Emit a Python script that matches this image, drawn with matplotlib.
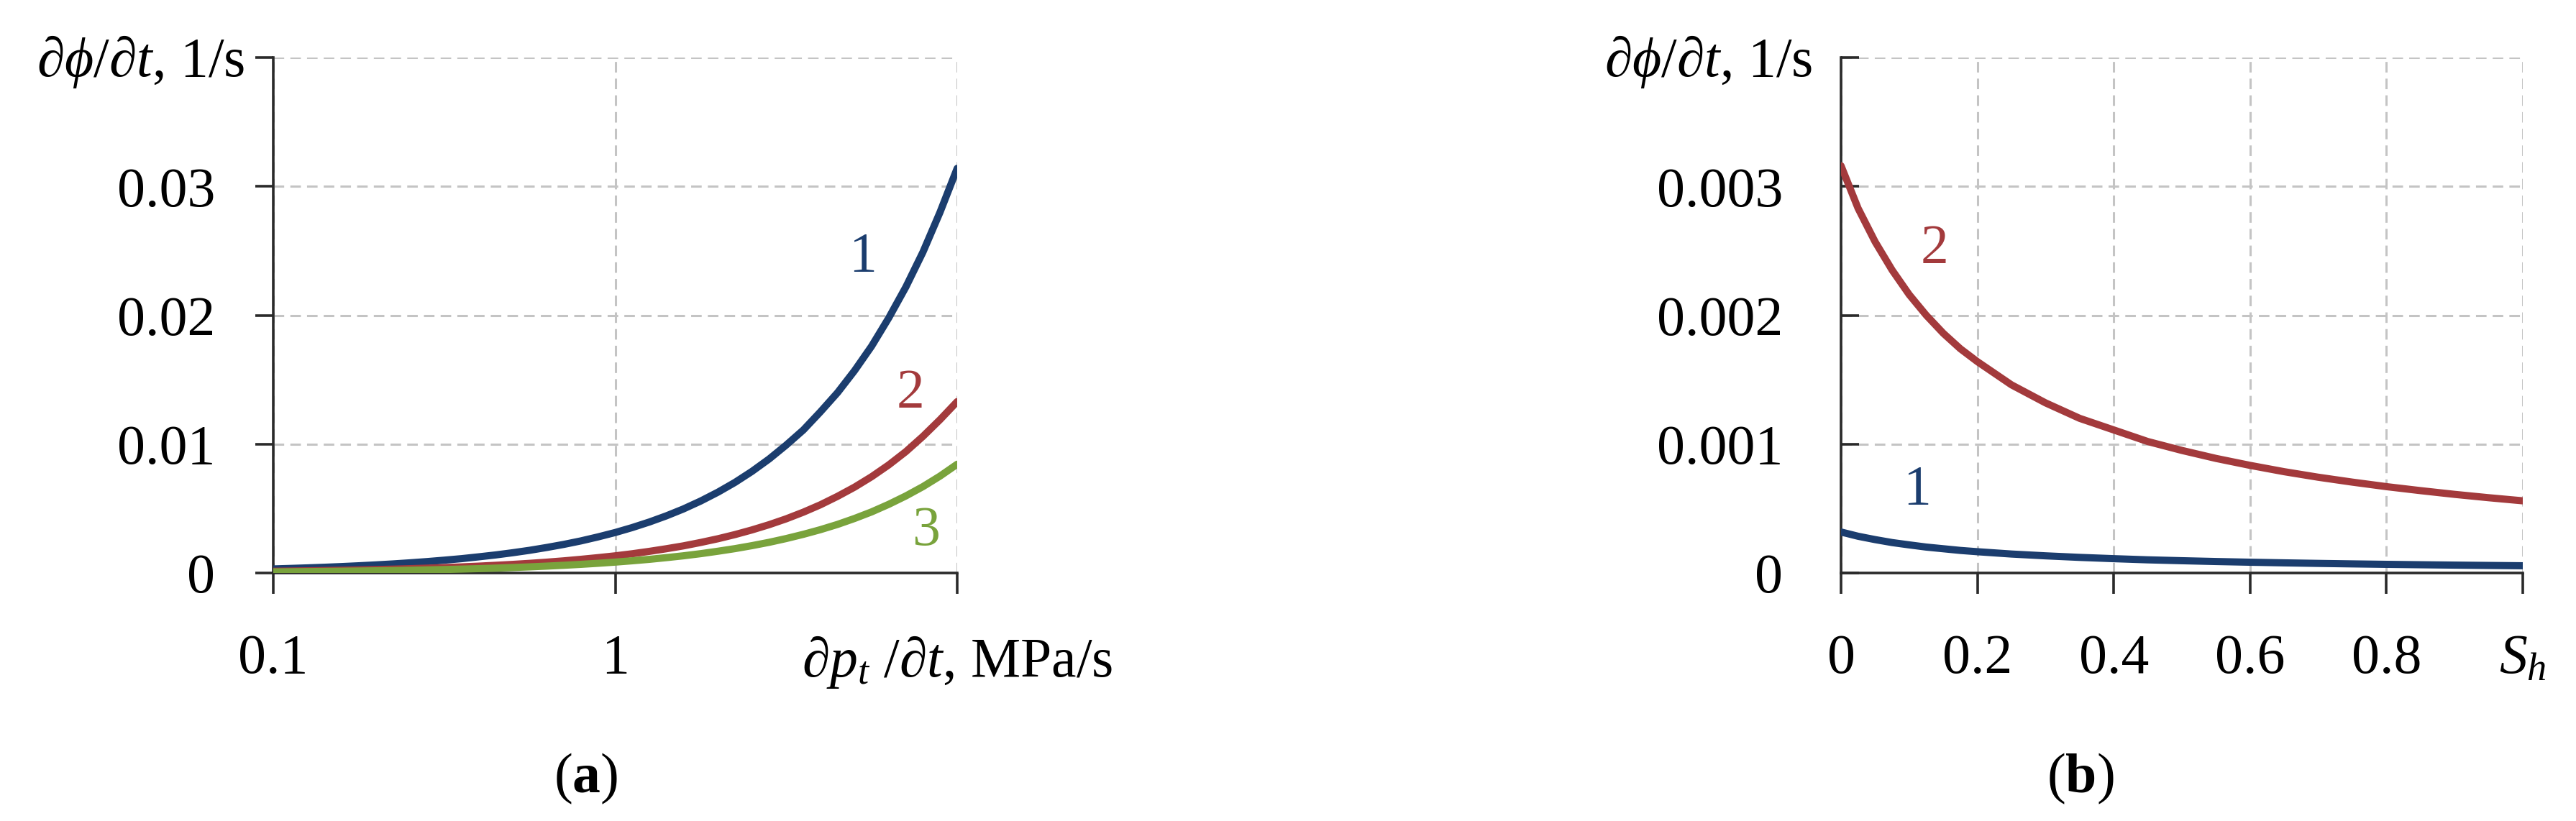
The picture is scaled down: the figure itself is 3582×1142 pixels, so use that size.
import matplotlib
matplotlib.use("Agg")
import matplotlib.pyplot as plt
from matplotlib.ticker import FixedLocator, FixedFormatter, NullLocator

plt.rcParams['font.family'] = ['Liberation Serif', 'DejaVu Serif']
plt.rcParams['mathtext.fontset'] = 'custom'
plt.rcParams['mathtext.rm'] = 'Liberation Serif'
plt.rcParams['mathtext.it'] = 'Liberation Serif:italic'
plt.rcParams['mathtext.bf'] = 'Liberation Serif:bold'

# ---------------- data: panel (a) ----------------
a_x = [0.1, 0.112, 0.126, 0.141, 0.158, 0.178, 0.2, 0.224, 0.251, 0.282, 0.316,
       0.355, 0.398, 0.447, 0.501, 0.562, 0.631, 0.708, 0.794, 0.891, 1.0,
       1.12, 1.26, 1.41, 1.58, 1.78, 2.0, 2.24, 2.51, 2.82, 3.16,
       3.55, 3.98, 4.47, 5.01, 5.62, 6.31, 7.08, 7.94, 8.91, 10.0]
a_curve1 = [0.000314, 0.000352, 0.000396, 0.000443, 0.000496, 0.000559, 0.000628,
            0.000703, 0.000788, 0.000885, 0.000992, 0.00111, 0.00125, 0.00140,
            0.00157, 0.00176, 0.00198, 0.00222, 0.00249, 0.00280, 0.00314,
            0.00352, 0.00396, 0.00443, 0.00496, 0.00559, 0.00628, 0.00703,
            0.00788, 0.00885, 0.00992, 0.0111, 0.0125, 0.0140, 0.0157, 0.0176,
            0.0198, 0.0222, 0.0249, 0.0280, 0.0314]
a_curve2 = [0.000133, 0.000149, 0.000168, 0.000188, 0.000210, 0.000237, 0.000266,
            0.000298, 0.000334, 0.000375, 0.000420, 0.000472, 0.000529, 0.000595,
            0.000666, 0.000747, 0.000839, 0.000942, 0.00106, 0.00119, 0.00133,
            0.00149, 0.00168, 0.00188, 0.00210, 0.00237, 0.00266, 0.00298,
            0.00334, 0.00375, 0.00420, 0.00472, 0.00529, 0.00595, 0.00666,
            0.00747, 0.00839, 0.00942, 0.0106, 0.0119, 0.0133]
a_curve3 = [0.0000844, 0.0000945, 0.000106, 0.000119, 0.000133, 0.000150, 0.000169,
            0.000189, 0.000212, 0.000238, 0.000267, 0.000300, 0.000336, 0.000377,
            0.000423, 0.000474, 0.000533, 0.000598, 0.000670, 0.000752, 0.000844,
            0.000945, 0.00106, 0.00119, 0.00133, 0.00150, 0.00169, 0.00189,
            0.00212, 0.00238, 0.00267, 0.00300, 0.00336, 0.00377, 0.00423,
            0.00474, 0.00533, 0.00598, 0.00670, 0.00752, 0.00844]
a_xticks = [0.1, 1, 10]
a_xticklabels = ['0.1', '1', '∂$p_t$ /∂$t$, MPa/s']
a_yticks = [0, 0.01, 0.02, 0.03, 0.04]
a_yticklabels = ['0', '0.01', '0.02', '0.03', '']

# ---------------- data: panel (b) ----------------
b_x = [0.0, 0.025, 0.05, 0.075, 0.1, 0.125, 0.15, 0.175, 0.2, 0.225, 0.25,
       0.275, 0.3, 0.35, 0.4, 0.45, 0.5, 0.55, 0.6, 0.65, 0.7, 0.75, 0.8,
       0.85, 0.9, 0.95, 1.0]
b_curve2 = [0.00316, 0.00283, 0.00257, 0.00235, 0.00216, 0.00200, 0.00186,
            0.00174, 0.00164, 0.00155, 0.00146, 0.00139, 0.00132, 0.00120,
            0.00111, 0.00102, 0.000951, 0.000889, 0.000835, 0.000786, 0.000743,
            0.000705, 0.000670, 0.000639, 0.000610, 0.000584, 0.000560]
b_curve1 = [0.000318, 0.000285, 0.000259, 0.000236, 0.000218, 0.000201, 0.000188,
            0.000175, 0.000165, 0.000156, 0.000147, 0.000140, 0.000133, 0.000121,
            0.000111, 0.000102, 0.0000952, 0.0000889, 0.0000835, 0.0000786,
            0.0000743, 0.0000705, 0.0000670, 0.0000639, 0.0000610, 0.0000584,
            0.0000560]
b_xticks = [0, 0.2, 0.4, 0.6, 0.8, 1.0]
b_xticklabels = ['0', '0.2', '0.4', '0.6', '0.8', r'$S_h$']
b_yticks = [0, 0.001, 0.002, 0.003, 0.004]
b_yticklabels = ['0', '0.001', '0.002', '0.003', '']

ylabel_text = '∂$\\phi$/∂$t$, 1/s'

BLUE = '#1b3d6e'
RED = '#a33a3c'
GREEN = '#79a33c'
GRID = '#c4c4c4'
AXC = '#2a2a2a'
FS = 56
LW = 7.2

W, H = 3582, 1142
fig = plt.figure(figsize=(W / 100, H / 100), dpi=100)

axa = fig.add_axes([380 / W, 1 - 797 / H, 951 / W, 717 / H])
axb = fig.add_axes([2560 / W, 1 - 797 / H, 948 / W, 717 / H])


def style(ax, ytick_dir, ypad):
    for s in ['top', 'right']:
        ax.spines[s].set_visible(False)
    for s in ['left', 'bottom']:
        ax.spines[s].set_color(AXC)
        ax.spines[s].set_linewidth(2.6)
    ax.grid(True, color=GRID, linewidth=2.2, linestyle=(0, (4.8, 2.8)))
    ax.set_axisbelow(True)
    ax.tick_params(axis='x', direction='out', length=21, width=2.6, color=AXC,
                   pad=40, labelsize=FS)
    ax.tick_params(axis='y', direction=ytick_dir, length=18, width=2.6, color=AXC,
                   pad=ypad, labelsize=FS)
    ax.annotate(ylabel_text, xy=(0, 1), xycoords='axes fraction',
                xytext=(-40, -6), textcoords='offset pixels',
                ha='right', va='center', fontsize=FS, annotation_clip=False)


# panel (a)
axa.set_xscale('log')
axa.plot(a_x, a_curve1, color=BLUE, lw=LW, solid_capstyle='round', zorder=3)
axa.plot(a_x, a_curve2, color=RED, lw=LW, solid_capstyle='round', zorder=3)
axa.plot(a_x, a_curve3, color=GREEN, lw=LW, solid_capstyle='round', zorder=3)
axa.set_xlim(0.1, 10)
axa.set_ylim(0, 0.04)
axa.xaxis.set_major_locator(FixedLocator(a_xticks))
axa.xaxis.set_major_formatter(FixedFormatter(a_xticklabels))
axa.xaxis.set_minor_locator(NullLocator())
axa.yaxis.set_major_locator(FixedLocator(a_yticks))
axa.yaxis.set_major_formatter(FixedFormatter(a_yticklabels))
style(axa, 'out', 40)
axa.text(5.3, 0.0245, '1', color=BLUE, fontsize=FS, ha='center', va='center')
axa.text(7.3, 0.0139, '2', color=RED, fontsize=FS, ha='center', va='center')
axa.text(8.1, 0.0032, '3', color=GREEN, fontsize=FS, ha='center', va='center')

# panel (b)
axb.plot(b_x, b_curve2, color=RED, lw=LW, solid_capstyle='round', zorder=3)
axb.plot(b_x, b_curve1, color=BLUE, lw=LW, solid_capstyle='round', zorder=3)
axb.set_xlim(0, 1.0)
axb.set_ylim(0, 0.004)
axb.xaxis.set_major_locator(FixedLocator(b_xticks))
axb.xaxis.set_major_formatter(FixedFormatter(b_xticklabels))
axb.yaxis.set_major_locator(FixedLocator(b_yticks))
axb.yaxis.set_major_formatter(FixedFormatter(b_yticklabels))
style(axb, 'in', 58)
axb.text(0.137, 0.00251, '2', color=RED, fontsize=FS, ha='center', va='center')
axb.text(0.111, 0.00064, '1', color=BLUE, fontsize=FS, ha='center', va='center')

fig.text(815 / W, 1 - 1083 / H, r'($\mathbf{a}$)', fontsize=FS, ha='center', va='center')
fig.text(2893 / W, 1 - 1083 / H, r'($\mathbf{b}$)', fontsize=FS, ha='center', va='center')

fig.savefig('out.png', dpi=100, facecolor='white')
